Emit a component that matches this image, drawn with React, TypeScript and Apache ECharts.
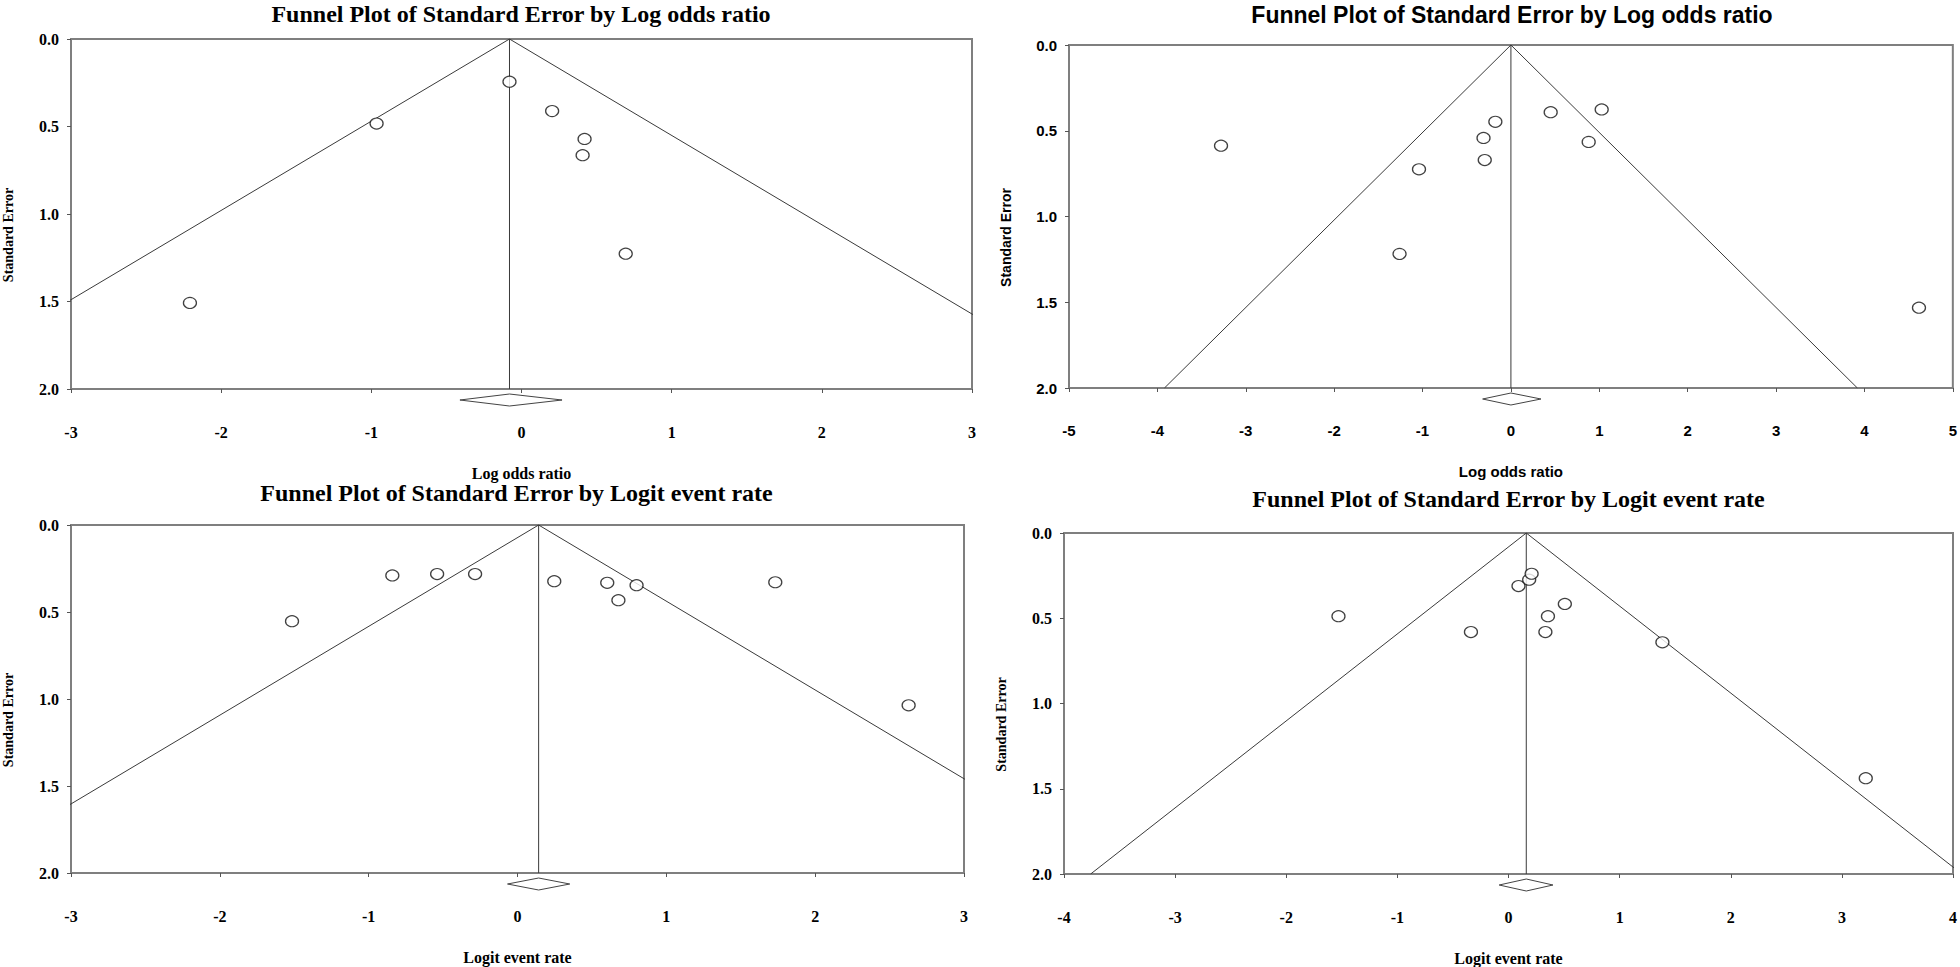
import React, { useEffect, useRef } from "react";
import * as echarts from "echarts";

const SERIF = '"Liberation Serif", "Times New Roman", serif';
const SANS = '"Liberation Sans", Arial, sans-serif';

// ---- Data ----
const Y_NAME = "Standard Error";
const SE_TICKS = [0.0, 0.5, 1.0, 1.5, 2.0];
const Z95 = 1.96;

// Panel 1 (top left)
const p1Title = "Funnel Plot of Standard Error by Log odds ratio";
const p1XName = "Log odds ratio";
const p1XTicks = [-3, -2, -1, 0, 1, 2, 3];
const p1Effect = [-0.08, -0.965, 0.204, 0.42, 0.407, 0.694, -2.208];
const p1SE = [0.244, 0.483, 0.412, 0.571, 0.664, 1.227, 1.508];
const p1Pooled = [-0.08, -0.41, 0.27]; // estimate, lower, upper

// Panel 2 (top right)
const p2Title = "Funnel Plot of Standard Error by Log odds ratio";
const p2XName = "Log odds ratio";
const p2XTicks = [-5, -4, -3, -2, -1, 0, 1, 2, 3, 4, 5];
const p2Effect = [-3.28, -1.04, -1.26, -0.176, -0.31, -0.296, 0.45, 1.027, 0.88, 4.617];
const p2SE = [0.587, 0.725, 1.218, 0.448, 0.542, 0.671, 0.392, 0.376, 0.565, 1.532];
const p2Pooled = [0.0, -0.32, 0.34];

// Panel 3 (bottom left)
const p3Title = "Funnel Plot of Standard Error by Logit event rate";
const p3XName = "Logit event rate";
const p3XTicks = [-3, -2, -1, 0, 1, 2, 3];
const p3Effect = [-0.841, -0.54, -0.285, -1.515, 0.247, 0.603, 0.8, 0.678, 1.732, 2.628];
const p3SE = [0.29, 0.282, 0.282, 0.553, 0.323, 0.332, 0.346, 0.432, 0.329, 1.036];
const p3Pooled = [0.142, -0.067, 0.351];

// Panel 4 (bottom right)
const p4Title = "Funnel Plot of Standard Error by Logit event rate";
const p4XName = "Logit event rate";
const p4XTicks = [-4, -3, -2, -1, 0, 1, 2, 3, 4];
const p4Effect = [-1.53, -0.338, 0.09, 0.186, 0.208, 0.507, 0.355, 0.332, 1.385, 3.215];
const p4SE = [0.488, 0.581, 0.311, 0.274, 0.239, 0.416, 0.488, 0.581, 0.641, 1.438];
const p4Pooled = [0.16, -0.084, 0.4];

// ---- Layout ----
const panels = [
  { title: p1Title, xName: p1XName, xTicks: p1XTicks, eff: p1Effect, se: p1SE, pooled: p1Pooled,
    font: SERIF, titleSize: 24, tickSize: 16, nameSize: 16, yNameSize: 14,
    left: 70, top: 39, width: 902, height: 350, titleTop: 2 },
  { title: p2Title, xName: p2XName, xTicks: p2XTicks, eff: p2Effect, se: p2SE, pooled: p2Pooled,
    font: SANS, titleSize: 23, tickSize: 15, nameSize: 15, yNameSize: 14,
    left: 1069, top: 45, width: 886, height: 343, titleTop: 3 },
  { title: p3Title, xName: p3XName, xTicks: p3XTicks, eff: p3Effect, se: p3SE, pooled: p3Pooled,
    font: SERIF, titleSize: 24, tickSize: 16, nameSize: 16, yNameSize: 14,
    left: 69, top: 525, width: 895, height: 348, titleTop: 481 },
  { title: p4Title, xName: p4XName, xTicks: p4XTicks, eff: p4Effect, se: p4SE, pooled: p4Pooled,
    font: SERIF, titleSize: 24, tickSize: 16, nameSize: 16, yNameSize: 14,
    left: 1064, top: 533, width: 889, height: 343, titleTop: 487 },
];

const FRAME = "#7f7f7f";
const INK = "#111";

function buildOption() {
  const seMax = SE_TICKS[SE_TICKS.length - 1];
  const seMin = SE_TICKS[0];
  const title: any[] = [];
  const grid: any[] = [];
  const xAxis: any[] = [];
  const yAxis: any[] = [];
  const series: any[] = [];

  panels.forEach((p, i) => {
    title.push({
      text: p.title,
      left: p.left + p.width / 2,
      top: p.titleTop,
      textAlign: "center",
      padding: 0,
      textStyle: { fontFamily: p.font, fontWeight: "bold", fontSize: p.titleSize, color: "#000" },
    });
    grid.push({
      left: p.left, top: p.top, width: p.width, height: p.height,
      show: true, borderColor: FRAME, borderWidth: 2, backgroundColor: "transparent",
    });
    xAxis.push({
      gridIndex: i, type: "value",
      min: p.xTicks[0], max: p.xTicks[p.xTicks.length - 1], interval: 1,
      name: p.xName, nameLocation: "middle", nameGap: 76,
      nameTextStyle: { fontFamily: p.font, fontWeight: "bold", fontSize: p.nameSize, color: "#000" },
      axisLine: { onZero: false, lineStyle: { color: FRAME, width: 2 } },
      axisTick: { show: true, length: 4, lineStyle: { color: "#555", width: 1 } },
      axisLabel: {
        margin: 35, fontFamily: p.font, fontWeight: "bold", fontSize: p.tickSize, color: "#000",
        showMinLabel: true, showMaxLabel: true,
      },
      splitLine: { show: false },
    });
    yAxis.push({
      gridIndex: i, type: "value", inverse: true,
      min: seMin, max: seMax, interval: 0.5,
      name: Y_NAME, nameLocation: "middle", nameGap: 56, nameRotate: 90,
      nameTextStyle: {
        fontFamily: p.font, fontWeight: "bold", fontSize: p.yNameSize, color: "#000",
        padding: [0, 42, 0, 0],
      },
      axisLine: { onZero: false, lineStyle: { color: FRAME, width: 2 } },
      axisTick: { show: true, length: 4, lineStyle: { color: "#555", width: 1 } },
      axisLabel: {
        margin: 12, fontFamily: p.font, fontWeight: "bold", fontSize: p.tickSize, color: "#000",
        formatter: (v: number) => v.toFixed(1), showMinLabel: true, showMaxLabel: true,
      },
      splitLine: { show: false },
    });

    const c = p.pooled[0];
    series.push({
      type: "line", xAxisIndex: i, yAxisIndex: i, z: 2, clip: true,
      data: [[c - Z95 * seMax, seMax], [c, seMin], [c + Z95 * seMax, seMax]],
      symbol: "none", lineStyle: { color: "#3a3a3a", width: 1 }, silent: true,
    });
    series.push({
      type: "line", xAxisIndex: i, yAxisIndex: i, z: 2, clip: true,
      data: [[c, seMin], [c, seMax]],
      symbol: "none", lineStyle: { color: "#3a3a3a", width: 1 }, silent: true,
    });
    series.push({
      type: "scatter", xAxisIndex: i, yAxisIndex: i, z: 5,
      data: p.eff.map((x, k) => [x, p.se[k]]),
      symbol: "circle", symbolSize: [13, 11],
      itemStyle: { color: "#fff", borderColor: INK, borderWidth: 1.2 },
    });
    series.push({
      type: "custom", xAxisIndex: i, yAxisIndex: i, z: 4, clip: false,
      data: [p.pooled],
      renderItem: (params: any, api: any) => {
        const est = api.value(0);
        const lo = api.value(1);
        const hi = api.value(2);
        const pc = api.coord([est, seMax]);
        const pl = api.coord([lo, seMax]);
        const ph = api.coord([hi, seMax]);
        const cy = pc[1] + 11;
        const hh = 6;
        return {
          type: "polygon",
          shape: { points: [[pl[0], cy], [pc[0], cy - hh], [ph[0], cy], [pc[0], cy + hh]] },
          style: { fill: "#fff", stroke: "#444", lineWidth: 1 },
        };
      },
    });
  });

  return { animation: false, backgroundColor: "#fff", title, grid, xAxis, yAxis, series };
}

export default function App() {
  const ref = useRef<HTMLDivElement>(null);
  useEffect(() => {
    if (!ref.current) return;
    const chart = echarts.init(ref.current, undefined, { renderer: "svg" });
    chart.setOption(buildOption() as any);
    return () => chart.dispose();
  }, []);
  return (
    <div
      ref={ref}
      style={{ position: "fixed", left: 0, top: 0, width: 1960, height: 967, background: "#fff" }}
    />
  );
}
